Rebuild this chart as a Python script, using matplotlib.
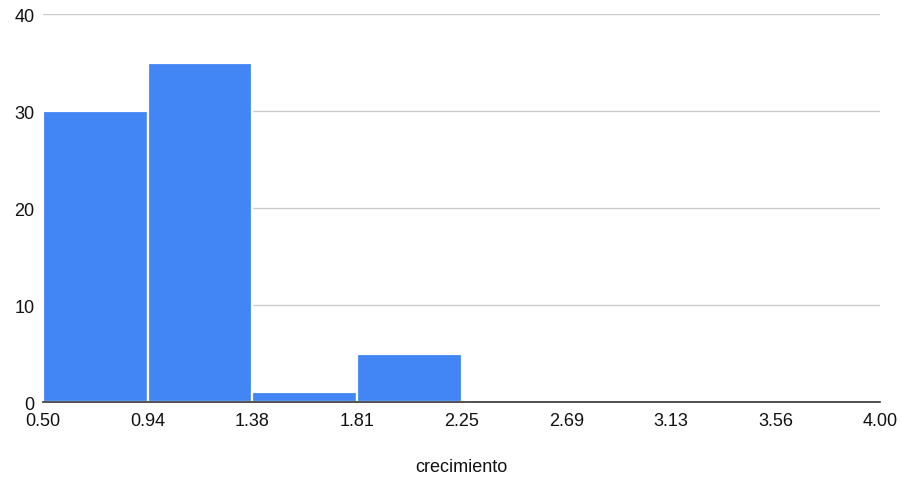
import matplotlib.pyplot as plt
import numpy as np

# histogram of crecimiento: 8 bins from 0.50 to 4.00
bin_edges = np.linspace(0.5, 4.0, 9)
counts = [30, 35, 1, 5, 0, 0, 0, 0]
tick_labels = ["0.50", "0.94", "1.38", "1.81", "2.25", "2.69", "3.13", "3.56", "4.00"]

plt.rcParams["font.family"] = ["Liberation Sans", "DejaVu Sans"]

fig = plt.figure(figsize=(9.05, 4.85), dpi=100)
ax = fig.add_axes([0.0475, 0.169, 0.925, 0.80])

widths = np.diff(bin_edges)
ax.bar(bin_edges[:-1], counts, width=widths, align="edge",
       color="#4285F4", edgecolor="white", linewidth=1.6, zorder=3)

ax.set_xlim(bin_edges[0], bin_edges[-1])
ax.set_ylim(0, 40)
ax.set_xticks(bin_edges)
ax.set_xticklabels(tick_labels)
ax.set_yticks([0, 10, 20, 30, 40])

ax.grid(axis="y", color="#cccccc", linewidth=1, zorder=0)
for side in ["top", "right", "left"]:
    ax.spines[side].set_visible(False)
ax.spines["bottom"].set_color("#333333")
ax.spines["bottom"].set_linewidth(1.2)
ax.spines["bottom"].set_zorder(4)

ax.tick_params(axis="both", length=0, labelsize=13, colors="#111111")
ax.tick_params(axis="x", pad=7)
ax.tick_params(axis="y", pad=6)

ax.set_xlabel("crecimiento", fontsize=13, color="#111111", labelpad=21)

fig.savefig("out.png", dpi=100)
